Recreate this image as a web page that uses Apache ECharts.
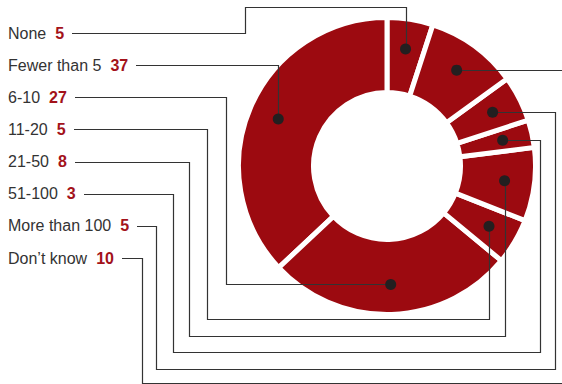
<!DOCTYPE html>
<html><head><meta charset="utf-8">
<script src="https://cdn.jsdelivr.net/npm/echarts@6/dist/echarts.min.js"></script>
<style>html,body{margin:0;padding:0;background:#fff}#c{width:562px;height:384px}</style>
</head><body><div id="c"></div>
<script>
const categories = ['None', 'Fewer than 5', '6-10', '11-20', '21-50', '51-100', 'More than 100', 'Don\u2019t know'];
const values = [5, 37, 27, 5, 8, 3, 5, 10];

const RED = '#9c0a10', NUM = '#a3121a', INK = '#333333', DOT = '#231f20';
const FONT = '"Liberation Sans", Arial, sans-serif';
const labelY0 = 33, labelStep = 32.15;
// leader-line routing (layout only)
const routes = [
  {t: 'over', x: 245, y: 7},
  {t: 'direct'},
  {t: 'down', x: 226},
  {t: 'under', x: 207, y: 319},
  {t: 'under', x: 189, y: 336},
  {t: 'around', x: 173, y: 352, rx: 540},
  {t: 'around', x: 156, y: 369, rx: 555},
  {t: 'around', x: 142, y: 383, rx: 600}
];

const chart = echarts.init(document.getElementById('c'), null, {renderer: 'svg'});
chart.setOption({
  animation: false,
  series: [{
    type: 'pie', center: [387, 166], radius: [73.5, 148.5], startAngle: 72, clockwise: false,
    label: {show: false}, labelLine: {show: false}, emphasis: {disabled: true}, silent: true,
    itemStyle: {color: RED, borderColor: '#fff', borderWidth: 5},
    data: categories.map((c, i) => ({name: c, value: values[i]}))
  }]
});

const data = chart.getModel().getSeriesByIndex(0).getData();
const ctx = document.createElement('canvas').getContext('2d');
function tw(text, weight) { ctx.font = weight + ' 16px ' + FONT; return ctx.measureText(text).width; }
const px = v => Math.round(v) + 0.5;
const els = [];
categories.forEach((c, i) => {
  const L = data.getItemLayout(i);
  const mid = (L.startAngle + L.endAngle) / 2;
  const rr = L.r0 + (L.r - L.r0) * 0.6;
  const dx = L.cx + rr * Math.cos(mid), dy = L.cy + rr * Math.sin(mid);
  const ly = labelY0 + i * labelStep;
  const w1 = tw(c, 'normal');
  const nx = 8 + w1 + 9;
  const w2 = tw(String(values[i]), 'bold');
  const sx = nx + w2 + 8;
  els.push({type: 'text', x: 8, y: ly, z: 100, style: {text: c, fontSize: 16, fontFamily: FONT, fill: INK, verticalAlign: 'middle'}});
  els.push({type: 'text', x: nx, y: ly, z: 100, style: {text: String(values[i]), fontSize: 16, fontWeight: 'bold', fontFamily: FONT, fill: NUM, verticalAlign: 'middle'}});
  const r = routes[i];
  const Ly = px(ly), Dx = px(dx), Dy = px(dy), Sx = Math.round(sx);
  let pts;
  if (r.t === 'over') pts = [[Sx, Ly], [px(r.x), Ly], [px(r.x), px(r.y)], [Dx, px(r.y)], [Dx, Dy]];
  else if (r.t === 'direct') pts = [[Sx, Ly], [Dx, Ly], [Dx, Dy]];
  else if (r.t === 'down') pts = [[Sx, Ly], [px(r.x), Ly], [px(r.x), Dy], [Dx, Dy]];
  else if (r.t === 'under') pts = [[Sx, Ly], [px(r.x), Ly], [px(r.x), px(r.y)], [Dx, px(r.y)], [Dx, Dy]];
  else pts = [[Sx, Ly], [px(r.x), Ly], [px(r.x), px(r.y)], [px(r.rx), px(r.y)], [px(r.rx), Dy], [Dx, Dy]];
  els.push({type: 'polyline', z: 100, shape: {points: pts}, style: {stroke: INK, lineWidth: 1.2, fill: null}});
  els.push({type: 'circle', z: 101, shape: {cx: dx, cy: dy, r: 5.5}, style: {fill: DOT}});
});
chart.setOption({graphic: {elements: els}});
</script>
</body></html>
